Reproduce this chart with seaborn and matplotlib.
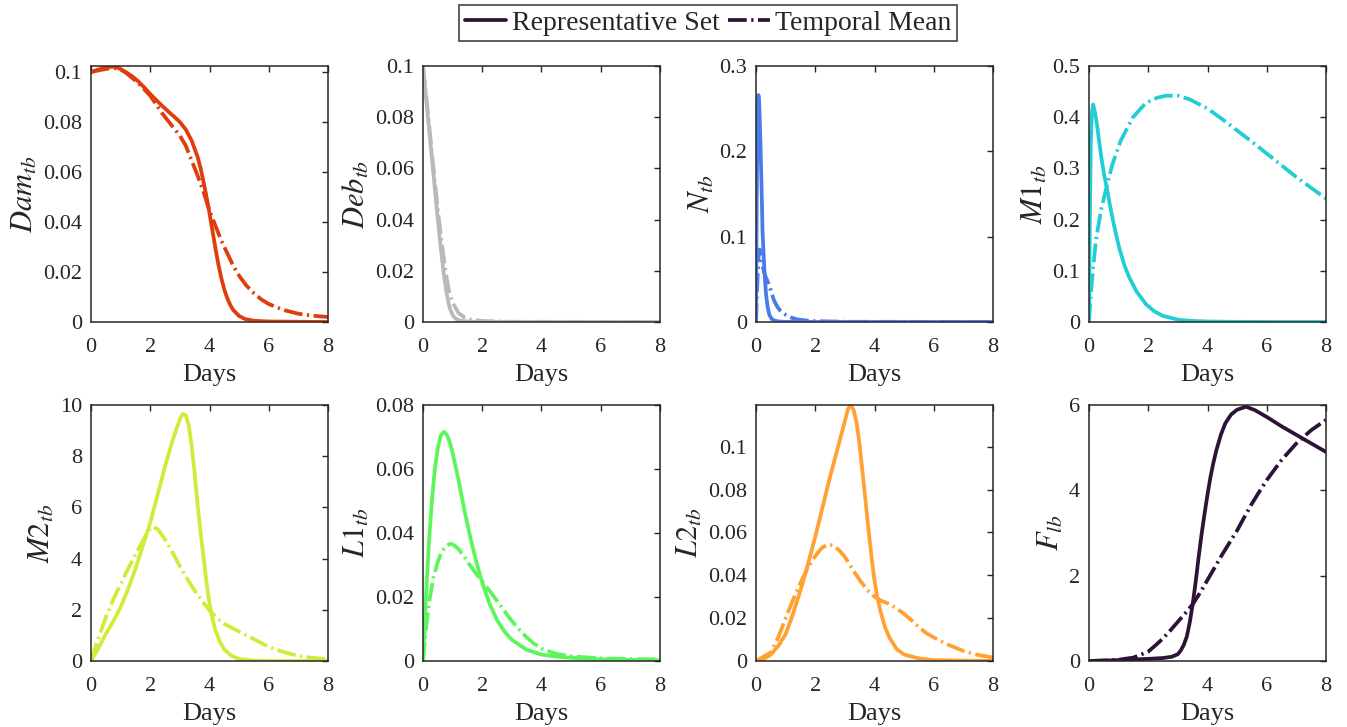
import numpy as np
import pandas as pd
import matplotlib
matplotlib.use("Agg")
import matplotlib.pyplot as plt
from matplotlib.ticker import FuncFormatter
import seaborn as sns

# ---------------- data ----------------
days_ticks = [0, 2, 4, 6, 8]

# Dam_tb
dam_rep_x = [0, 0.2, 0.4, 0.6, 0.8, 1.0, 1.2, 1.4, 1.6, 1.8, 2.0, 2.2, 2.4, 2.6, 2.8, 3.0, 3.2, 3.4, 3.6, 3.7, 3.8, 3.9,
             4.0, 4.1, 4.2, 4.3, 4.4, 4.5, 4.6, 4.7, 4.8, 5.0, 5.2, 5.5, 6.0, 7.0, 8.0]
dam_rep_y = [0.1, 0.1008, 0.1015, 0.102, 0.1021, 0.1012, 0.0998, 0.0982, 0.0962, 0.0938, 0.0912, 0.0888, 0.0865,
             0.0843, 0.0822, 0.0800, 0.0770, 0.0725, 0.0660, 0.0615, 0.0560, 0.0500, 0.0435, 0.0365, 0.0295, 0.0230,
             0.0175, 0.0130, 0.0095, 0.0068, 0.0048, 0.0024, 0.0012, 0.0005, 0.0002, 0.0001, 0.0]
dam_mean_x = [0, 0.2, 0.4, 0.6, 0.8, 1.0, 1.2, 1.4, 1.6, 1.8, 2.0, 2.2, 2.4, 2.6, 2.8, 3.0, 3.2, 3.4, 3.6, 3.8, 4.0,
              4.2, 4.4, 4.6, 4.8, 5.0, 5.25, 5.5, 5.75, 6.0, 6.5, 7.0, 7.5, 8.0]
dam_mean_y = [0.1, 0.1005, 0.101, 0.1014, 0.1015, 0.101, 0.0995, 0.0975, 0.0955, 0.093, 0.0905, 0.087, 0.0835, 0.0805,
              0.0775, 0.0745, 0.0705, 0.0645, 0.0585, 0.052, 0.0445, 0.0385, 0.0325, 0.0275, 0.0225, 0.0185, 0.0145,
              0.0115, 0.009, 0.0072, 0.0048, 0.0033, 0.0025, 0.002]

# Deb_tb
deb_rep_x = [0, 0.1, 0.2, 0.3, 0.4, 0.5, 0.6, 0.7, 0.8, 0.9, 1.0, 1.1, 1.25, 1.5, 2.0, 8.0]
deb_rep_y = [0.1, 0.088, 0.076, 0.064, 0.052, 0.040, 0.029, 0.019, 0.011, 0.0055, 0.0027, 0.0013, 0.0005, 0.0002, 0.0, 0.0]
deb_mean_x = [0, 0.1, 0.2, 0.3, 0.4, 0.5, 0.6, 0.7, 0.8, 0.9, 1.0, 1.2, 1.4, 1.6, 2.0, 3.0, 8.0]
deb_mean_y = [0.1, 0.089, 0.078, 0.066, 0.055, 0.044, 0.034, 0.025, 0.017, 0.011, 0.0075, 0.0035, 0.0018, 0.001,
              0.0004, 0.0001, 0.0]

# N_tb
n_rep_x = [0, 0.02, 0.04, 0.06, 0.08, 0.1, 0.12, 0.15, 0.17, 0.2, 0.22, 0.25, 0.28, 0.31, 0.34, 0.4, 0.45, 0.52,
           0.62, 0.8, 1.0, 2.0, 8.0]
n_rep_y = [0, 0.12, 0.2, 0.25, 0.266, 0.262, 0.245, 0.21, 0.184, 0.14, 0.106, 0.085, 0.063, 0.046, 0.032, 0.016,
           0.0086, 0.004, 0.0016, 0.0005, 0.0002, 0.0, 0.0]
n_mean_x = [0, 0.05, 0.1, 0.13, 0.2, 0.3, 0.4, 0.5, 0.6, 0.7, 0.8, 1.0, 1.2, 1.4, 1.7, 2.0, 3.0, 8.0]
n_mean_y = [0, 0.05, 0.083, 0.085, 0.068, 0.055, 0.047, 0.037, 0.026, 0.019, 0.014, 0.0085, 0.005, 0.003, 0.0017,
            0.001, 0.0003, 0.0]

# M1_tb
m1_rep_x = [0, 0.03, 0.06, 0.1, 0.14, 0.2, 0.27, 0.34, 0.42, 0.51, 0.62, 0.7, 0.79, 0.9, 1.02, 1.2, 1.36, 1.6,
            1.92, 2.2, 2.49, 3.05, 3.5, 4.0, 5.0, 6.0, 8.0]
m1_rep_y = [0, 0.2, 0.35, 0.41, 0.425, 0.41, 0.385, 0.354, 0.32, 0.288, 0.256, 0.23, 0.204, 0.174, 0.145, 0.11,
            0.087, 0.06, 0.035, 0.021, 0.012, 0.004, 0.002, 0.001, 0.0003, 0.0001, 0.0]
m1_mean_x = [0, 0.05, 0.11, 0.23, 0.4, 0.56, 0.79, 1.07, 1.47, 1.92, 2.3, 2.6, 3.0, 3.39, 4.0, 4.5, 5.0, 5.5, 6.0,
             6.5, 7.0, 7.5, 8.0]
m1_mean_y = [0, 0.045, 0.087, 0.158, 0.217, 0.256, 0.308, 0.354, 0.399, 0.428, 0.438, 0.442, 0.442, 0.435, 0.417,
             0.396, 0.374, 0.352, 0.329, 0.306, 0.283, 0.262, 0.241]

# M2_tb
m2_rep_x = [0, 0.25, 0.5, 0.75, 1.0, 1.25, 1.5, 1.75, 2.0, 2.25, 2.5, 2.75, 3.0, 3.1, 3.2, 3.3, 3.4, 3.5, 3.6, 3.7,
            3.8, 3.9, 4.0, 4.1, 4.2, 4.35, 4.5, 4.75, 5.0, 5.5, 6.0, 8.0]
m2_rep_y = [0, 0.5, 1.05, 1.55, 2.1, 2.8, 3.6, 4.5, 5.4, 6.5, 7.6, 8.6, 9.45, 9.65, 9.6, 9.2, 8.4, 7.3, 6.1, 5.0,
            4.05, 3.05, 2.25, 1.65, 1.2, 0.75, 0.45, 0.2, 0.08, 0.015, 0.003, 0.0]
m2_mean_x = [0, 0.25, 0.5, 0.75, 1.0, 1.25, 1.5, 1.75, 2.0, 2.1, 2.25, 2.5, 2.75, 3.0, 3.25, 3.5, 3.75, 4.0, 4.25,
             4.5, 5.0, 5.5, 6.0, 6.5, 7.0, 7.5, 8.0]
m2_mean_y = [0, 0.9, 1.7, 2.4, 3.0, 3.6, 4.15, 4.7, 5.2, 5.23, 5.15, 4.75, 4.25, 3.7, 3.2, 2.75, 2.35, 1.98, 1.68,
             1.45, 1.15, 0.85, 0.55, 0.35, 0.2, 0.12, 0.07]

# L1_tb
l1_rep_x = [0, 0.1, 0.2, 0.3, 0.4, 0.5, 0.6, 0.7, 0.8, 0.9, 1.0, 1.2, 1.4, 1.6, 1.8, 2.0, 2.25, 2.5, 2.75, 3.0,
            3.5, 4.0, 4.5, 5.0, 6.0, 8.0]
l1_rep_y = [0, 0.02, 0.037, 0.05, 0.06, 0.0665, 0.0705, 0.0716, 0.0708, 0.0685, 0.065, 0.0565, 0.047, 0.0385,
            0.031, 0.0245, 0.0178, 0.0128, 0.0092, 0.0066, 0.0035, 0.002, 0.0014, 0.001, 0.0005, 0.0002]
l1_mean_x = [0, 0.1, 0.2, 0.35, 0.5, 0.65, 0.8, 0.9, 1.0, 1.2, 1.4, 1.6, 1.8, 2.0, 2.25, 2.5, 2.75, 3.0, 3.25, 3.5,
             3.75, 4.0, 4.5, 5.0, 6.0, 7.0, 8.0]
l1_mean_y = [0, 0.01, 0.018, 0.026, 0.031, 0.0345, 0.036, 0.0366, 0.0365, 0.035, 0.0325, 0.0297, 0.0272, 0.025,
             0.0219, 0.0188, 0.0156, 0.0125, 0.0098, 0.0074, 0.0054, 0.0039, 0.0022, 0.0015, 0.0008, 0.0006, 0.0005]

# L2_tb
l2_rep_x = [0, 0.25, 0.5, 0.75, 1.0, 1.25, 1.5, 1.75, 2.0, 2.25, 2.5, 2.75, 3.0, 3.1, 3.2, 3.3, 3.4, 3.5, 3.6, 3.7,
            3.8, 3.9, 4.0, 4.1, 4.2, 4.35, 4.5, 4.75, 5.0, 5.5, 6.0, 8.0]
l2_rep_y = [0, 0.0008, 0.003, 0.007, 0.0125, 0.022, 0.033, 0.045, 0.058, 0.072, 0.086, 0.099, 0.112, 0.1175,
            0.1195, 0.117, 0.111, 0.1005, 0.0875, 0.0745, 0.061, 0.0485, 0.0375, 0.0295, 0.0234, 0.016, 0.011,
            0.0055, 0.003, 0.0012, 0.0004, 0.0]
l2_mean_x = [0, 0.5, 0.75, 1.0, 1.25, 1.5, 1.75, 2.0, 2.2, 2.4, 2.6, 2.8, 3.0, 3.25, 3.5, 3.75, 4.0, 4.25, 4.5,
             4.75, 5.0, 5.25, 5.5, 5.75, 6.0, 6.5, 7.0, 7.5, 8.0]
l2_mean_y = [0, 0.004, 0.011, 0.02, 0.0285, 0.0365, 0.0435, 0.049, 0.0525, 0.0544, 0.054, 0.0518, 0.0486, 0.043,
             0.0378, 0.0332, 0.03, 0.028, 0.0266, 0.0245, 0.022, 0.019, 0.0158, 0.013, 0.011, 0.0075, 0.0047,
             0.0028, 0.0016]

# F_lb
f_rep_x = [0, 0.5, 1.0, 1.5, 2.0, 2.5, 2.8, 3.0, 3.1, 3.2, 3.3, 3.4, 3.5, 3.6, 3.7, 3.8, 3.9, 4.0, 4.1, 4.2, 4.3,
           4.45, 4.6, 4.8, 5.0, 5.3, 5.6, 6.0, 6.5, 7.0, 7.5, 8.0]
f_rep_y = [0, 0.01, 0.02, 0.035, 0.05, 0.07, 0.1, 0.16, 0.25, 0.38, 0.57, 0.9, 1.33, 1.85, 2.43, 2.97, 3.45, 3.9,
           4.31, 4.65, 4.94, 5.3, 5.57, 5.78, 5.89, 5.96, 5.88, 5.72, 5.5, 5.3, 5.1, 4.9]
f_mean_x = [0, 0.5, 1.0, 1.5, 2.0, 2.25, 2.5, 2.75, 3.0, 3.25, 3.5, 3.75, 4.0, 4.25, 4.5, 4.75, 5.0, 5.25, 5.5,
            5.75, 6.0, 6.5, 7.0, 7.5, 8.0]
f_mean_y = [0, 0.01, 0.03, 0.08, 0.22, 0.37, 0.53, 0.72, 0.92, 1.12, 1.33, 1.6, 1.9, 2.2, 2.5, 2.78, 3.06, 3.38,
            3.69, 3.97, 4.24, 4.71, 5.1, 5.41, 5.65]

panel_labels = [r"$Dam_{tb}$", r"$Deb_{tb}$", r"$N_{tb}$", r"$M1_{tb}$",
                r"$M2_{tb}$", r"$L1_{tb}$", r"$L2_{tb}$", r"$F_{lb}$"]
panel_ymax = [0.1024, 0.1, 0.3, 0.5, 10, 0.08, 0.1195, 6]
panel_yticks = [[0, 0.02, 0.04, 0.06, 0.08, 0.1],
                [0, 0.02, 0.04, 0.06, 0.08, 0.1],
                [0, 0.1, 0.2, 0.3],
                [0, 0.1, 0.2, 0.3, 0.4, 0.5],
                [0, 2, 4, 6, 8, 10],
                [0, 0.02, 0.04, 0.06, 0.08],
                [0, 0.02, 0.04, 0.06, 0.08, 0.1],
                [0, 2, 4, 6]]
series_names = ["Representative Set", "Temporal Mean"]

colors = ["#E03C0C", "#B9B9B9", "#4A7BEA", "#22CDD3",
          "#D4EA3A", "#5CF65C", "#FFA133", "#2D1338"]

panels = [
    (dam_rep_x, dam_rep_y, dam_mean_x, dam_mean_y),
    (deb_rep_x, deb_rep_y, deb_mean_x, deb_mean_y),
    (n_rep_x, n_rep_y, n_mean_x, n_mean_y),
    (m1_rep_x, m1_rep_y, m1_mean_x, m1_mean_y),
    (m2_rep_x, m2_rep_y, m2_mean_x, m2_mean_y),
    (l1_rep_x, l1_rep_y, l1_mean_x, l1_mean_y),
    (l2_rep_x, l2_rep_y, l2_mean_x, l2_mean_y),
    (f_rep_x, f_rep_y, f_mean_x, f_mean_y),
]

# ---------------- style ----------------
sns.set_theme(style="white")
plt.rcParams["font.family"] = ["Liberation Serif", "DejaVu Serif"]
plt.rcParams["mathtext.fontset"] = "stix"
plt.rcParams["axes.edgecolor"] = "#262626"
plt.rcParams["axes.linewidth"] = 1.1
plt.rcParams["lines.solid_capstyle"] = "round"
plt.rcParams["lines.solid_joinstyle"] = "round"
plt.rcParams["lines.dash_joinstyle"] = "round"

fig = plt.figure(figsize=(13.47, 7.27), dpi=100)

W, H = 1347.0, 727.0
col_left = [91, 423, 756, 1089]
ax_w = 237
row_top = [66, 405]
ax_h = 256

dashdot = (0, (5.0, 1.2, 0.6, 1.2))
fmt = FuncFormatter(lambda v, p: "%g" % round(v, 6))
ink = "#262626"

for i, (rx, ry, mx, my) in enumerate(panels):
    r, c = divmod(i, 4)
    ax = fig.add_axes([col_left[c] / W, 1 - (row_top[r] + ax_h) / H, ax_w / W, ax_h / H])
    sns.lineplot(x=rx, y=ry, ax=ax, color=colors[i], linewidth=2.7, sort=False,
                 label=series_names[0] if i == 7 else None)
    sns.lineplot(x=mx, y=my, ax=ax, color=colors[i], linewidth=2.7, sort=False,
                 linestyle=dashdot, label=series_names[1] if i == 7 else None)
    ax.set_xlim(0, 8)
    ax.set_ylim(0, panel_ymax[i])
    ax.set_xticks(days_ticks)
    ax.set_yticks(panel_yticks[i])
    ax.xaxis.set_major_formatter(fmt)
    ax.yaxis.set_major_formatter(fmt)
    ax.tick_params(direction="in", top=True, right=True, length=4, width=1.0,
                   labelsize=16, colors=ink)
    ax.tick_params(axis="x", pad=11.5)
    ax.tick_params(axis="y", pad=6.5)
    ax.set_xlabel("Days", fontsize=19, color=ink, labelpad=5)
    ax.set_ylabel(panel_labels[i], fontsize=22, color=ink, labelpad=2)
    for s in ax.spines.values():
        s.set_visible(True)
        s.set_color(ink)
    if i == 7:
        handles, labels = ax.get_legend_handles_labels()
        ax.get_legend().remove()

leg = fig.legend(handles, labels, loc="center", bbox_to_anchor=(708 / W, 1 - 23 / H),
                 ncol=2, frameon=True, fancybox=False, fontsize=20,
                 handlelength=1.5, handletextpad=0.2, columnspacing=0.3,
                 borderpad=0.2, borderaxespad=0)
leg.get_frame().set_edgecolor(ink)
leg.get_frame().set_linewidth(1.3)

fig.savefig("out.png", dpi=100)
